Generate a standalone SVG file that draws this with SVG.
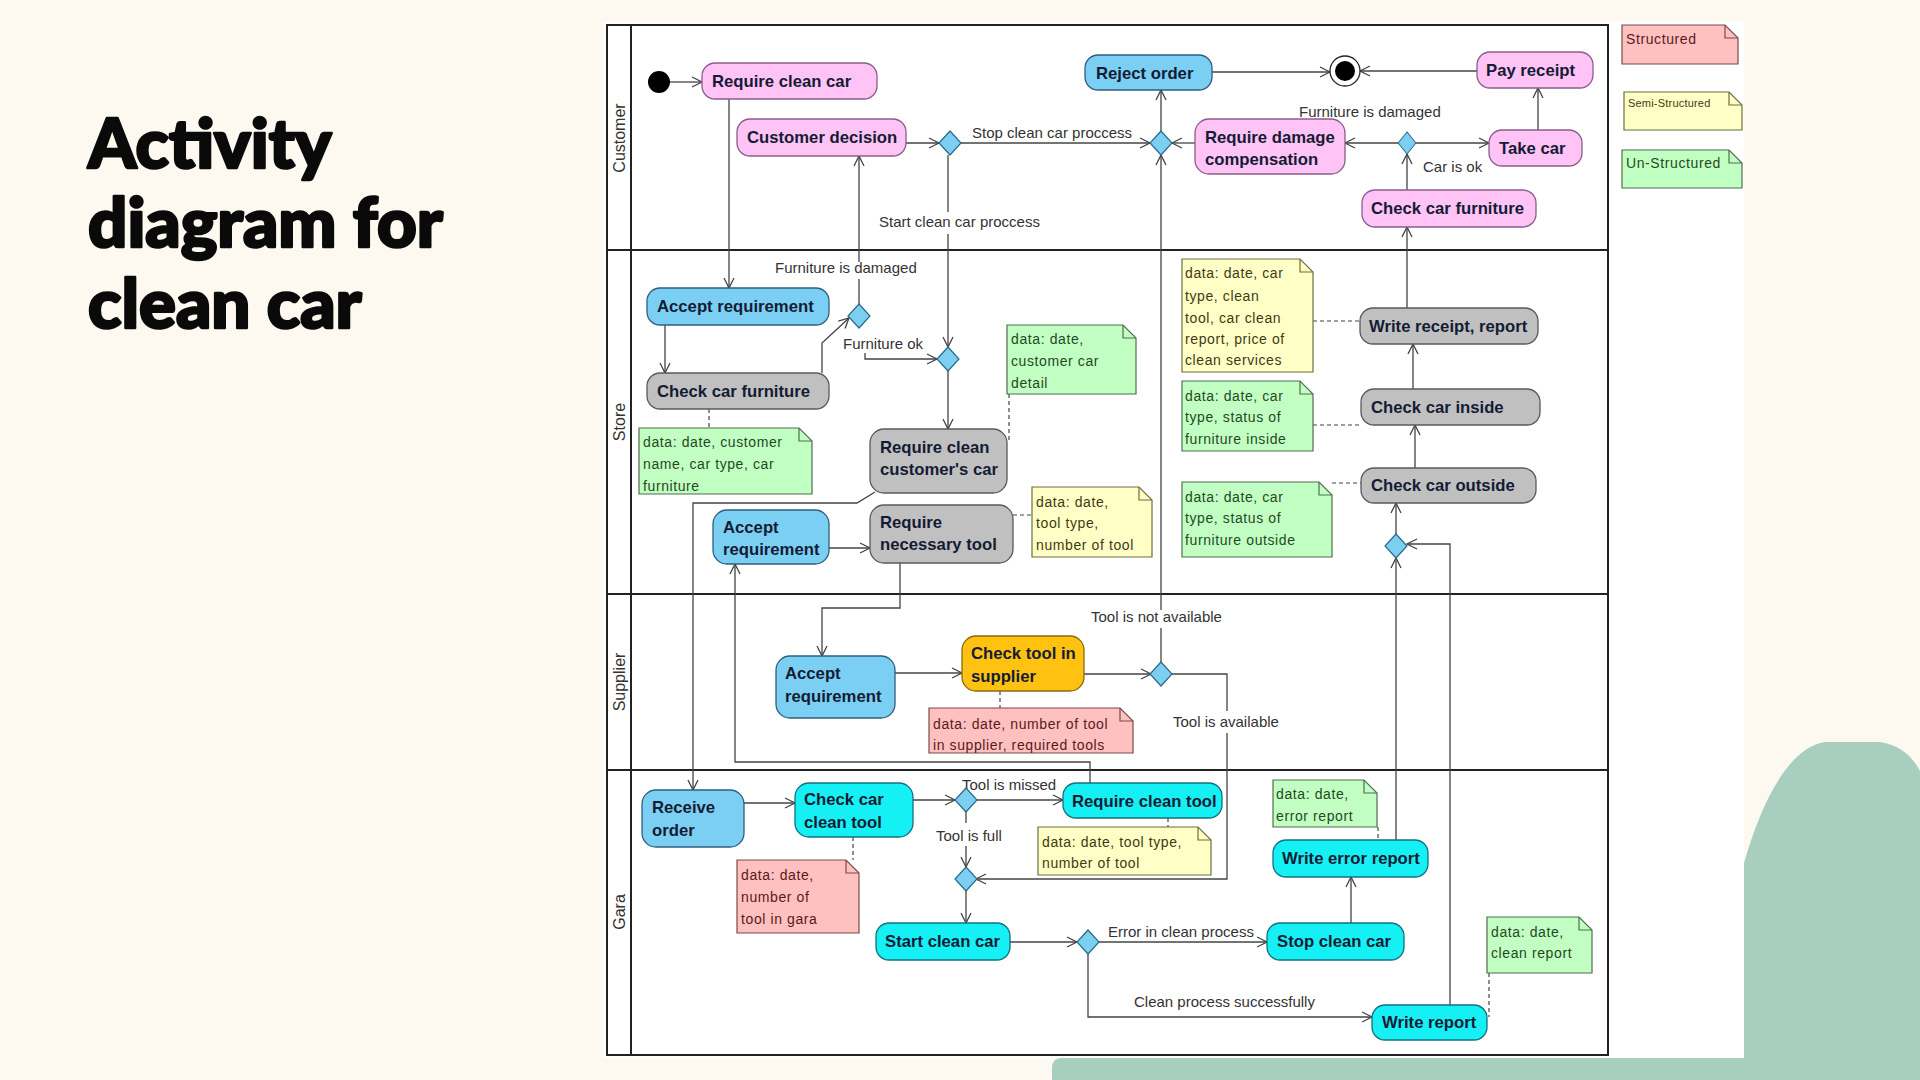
<svg xmlns="http://www.w3.org/2000/svg" width="1920" height="1080" viewBox="0 0 1920 1080">
  <defs>
    <style>
      .act { stroke-width: 1.3; }
      .pink { fill: #ffc3f6; stroke: #8c5c8c; }
      .blue { fill: #7bcff3; stroke: #2f5f7f; }
      .gray { fill: #c0c0c0; stroke: #5a5a5a; }
      .cyan { fill: #14f0f4; stroke: #15707e; }
      .orange { fill: #ffc210; stroke: #8a6a10; }
      .lbl { font-family: "Liberation Sans", Arial, sans-serif; font-weight: bold; font-size: 16.7px; fill: #141c34; }
      .edge { font-family: "Liberation Sans", Arial, sans-serif; font-size: 15px; fill: #333333; }
      .lane { font-family: "Liberation Sans", Arial, sans-serif; font-size: 16px; fill: #333333; }
      .note { font-family: "Liberation Sans", Arial, sans-serif; font-size: 14px; letter-spacing: 0.6px; }
      .ngreen { fill: #c2ffc2; stroke: #4f6f4f; stroke-width: 1.2; }
      .nyellow { fill: #ffffc6; stroke: #6f6f3f; stroke-width: 1.2; }
      .npink { fill: #ffc0c0; stroke: #7a4a4a; stroke-width: 1.2; }
      .tgreen { fill: #1f4a1f; }
      .tyellow { fill: #3f3a14; }
      .tpink { fill: #5a1a1a; }
      .fold { fill: none; stroke-width: 1.2; }
      .flow { fill: none; stroke: #444444; stroke-width: 1.3; }
      .arrow { marker-end: url(#open); }
      .dash { fill: none; stroke: #444444; stroke-width: 1.2; stroke-dasharray: 4 3; }
      .dia { fill: #7ccff0; stroke: #2a6a8a; stroke-width: 1.2; }
      .frame { fill: none; stroke: #222222; stroke-width: 2; }
    </style>
    <marker id="open" markerUnits="userSpaceOnUse" markerWidth="14" markerHeight="14" refX="11" refY="6" orient="auto">
      <path d="M1,1 L11,6 L1,11" fill="none" stroke="#444444" stroke-width="1.3"/>
    </marker>
    <path id="diamond" d="M0,-12 L11,0 L0,12 L-11,0 Z"/>
  </defs>

  <!-- page background -->
  <rect x="0" y="0" width="1920" height="1080" fill="#fdf9f0"/>
  <path d="M1052,1080 L1052,1068 Q1052,1058 1062,1058 L1744,1058 L1744,863 C1762,800 1790,746 1826,742 L1880,742 C1900,745 1912,756 1920,771 L1920,1080 Z" fill="#a8cec0"/>
  <rect x="604" y="22" width="1140" height="1036" fill="#ffffff"/>

  <!-- title -->
  <g id="title" font-family="Lato, 'Open Sans', sans-serif" font-weight="900" font-size="69" fill="#0a0a0a" stroke="#0a0a0a" stroke-width="2.6" stroke-linejoin="round">
    <text x="88" y="168">Activity</text>
    <text x="88" y="247">diagram for</text>
    <text x="88" y="328">clean car</text>
  </g>

  <!-- swimlanes -->
  <g id="lanes">
    <rect class="frame" x="607" y="25" width="1001" height="1030"/>
    <path class="frame" d="M631,25 V1055 M607,250 H1608 M607,594 H1608 M607,770 H1608"/>
    <text class="lane" transform="translate(625,138) rotate(-90)" text-anchor="middle">Customer</text>
    <text class="lane" transform="translate(625,422) rotate(-90)" text-anchor="middle">Store</text>
    <text class="lane" transform="translate(625,682) rotate(-90)" text-anchor="middle">Supplier</text>
    <text class="lane" transform="translate(625,912) rotate(-90)" text-anchor="middle">Gara</text>
  </g>

  <!-- connectors -->
  <g id="connectors">
    <path class="flow arrow" d="M670,82 H702"/>
    <path class="flow arrow" d="M729,99 V288"/>
    <path class="flow arrow" d="M906,143 H939"/>
    <path class="flow arrow" d="M961,143 H1150"/>
    <path class="flow" d="M948,155 V212"/>
    <path class="flow arrow" d="M948,234 V347"/>
    <path class="flow" d="M859,304 V279"/>
    <path class="flow arrow" d="M859,262 V156"/>
    <path class="flow arrow" d="M822,373 V343 L849,318"/>
    <path class="flow arrow" d="M665,325 V373"/>
    <path class="flow arrow" d="M865,353 V359 H937"/>
    <path class="flow arrow" d="M948,371 V429"/>
    <path class="flow arrow" d="M875,492 L857,503 H693 V790"/>
    <path class="flow arrow" d="M829,548 H870"/>
    <path class="flow arrow" d="M900,563 V608 H822 V656"/>
    <path class="flow arrow" d="M1090,783 V762 H735 V564"/>
    <path class="flow arrow" d="M895,673 H962"/>
    <path class="flow arrow" d="M1084,674 H1151"/>
    <path class="flow" d="M1161,662 V628"/>
    <path class="flow arrow" d="M1161,610 V155"/>
    <path class="flow" d="M1172,674 H1227 V711"/>
    <path class="flow arrow" d="M1227,733 V879 H976"/>
    <path class="flow arrow" d="M1161,131 V90"/>
    <path class="flow arrow" d="M1195,143 H1172"/>
    <path class="flow arrow" d="M1212,72 H1330"/>
    <path class="flow arrow" d="M1477,71 H1360"/>
    <path class="flow arrow" d="M1399,143 H1345"/>
    <path class="flow arrow" d="M1415,143 H1489"/>
    <path class="flow arrow" d="M1538,130 V88"/>
    <path class="flow arrow" d="M1407,190 V154"/>
    <path class="flow arrow" d="M1407,308 V227"/>
    <path class="flow arrow" d="M1413,389 V344"/>
    <path class="flow arrow" d="M1415,468 V425"/>
    <path class="flow arrow" d="M1396,534 V503"/>
    <path class="flow arrow" d="M1396,840 V558"/>
    <path class="flow arrow" d="M1450,1005 V544 H1407"/>
    <path class="flow arrow" d="M744,803 H795"/>
    <path class="flow arrow" d="M913,800 H955"/>
    <path class="flow arrow" d="M977,800 H1063"/>
    <path class="flow" d="M966,812 V823"/>
    <path class="flow arrow" d="M966,846 V867"/>
    <path class="flow arrow" d="M966,891 V923"/>
    <path class="flow arrow" d="M1010,942 H1077"/>
    <path class="flow arrow" d="M1099,942 H1267"/>
    <path class="flow arrow" d="M1088,954 V1017 H1372"/>
    <path class="flow arrow" d="M1351,923 V877"/>
    <!-- note anchors -->
    <path class="dash" d="M709,409 V428"/>
    <path class="dash" d="M1009,394 V440"/>
    <path class="dash" d="M1013,515 H1032"/>
    <path class="dash" d="M1313,321 H1360"/>
    <path class="dash" d="M1313,425 H1361"/>
    <path class="dash" d="M1332,483 H1361"/>
    <path class="dash" d="M1000,691 V708"/>
    <path class="dash" d="M853,837 V860"/>
    <path class="dash" d="M1168,818 V827"/>
    <path class="dash" d="M1378,827 V840"/>
    <path class="dash" d="M1489,973 V1017"/>
    <!-- guard labels -->
    <text class="edge" x="972" y="138">Stop clean car proccess</text>
    <text class="edge" x="879" y="227">Start clean car proccess</text>
    <text class="edge" x="775" y="273">Furniture is damaged</text>
    <text class="edge" x="843" y="349">Furniture ok</text>
    <text class="edge" x="1299" y="117">Furniture is damaged</text>
    <text class="edge" x="1423" y="172">Car is ok</text>
    <text class="edge" x="1091" y="622">Tool is not available</text>
    <text class="edge" x="1173" y="727">Tool is available</text>
    <text class="edge" x="962" y="790">Tool is missed</text>
    <text class="edge" x="936" y="841">Tool is full</text>
    <text class="edge" x="1108" y="937">Error in clean process</text>
    <text class="edge" x="1134" y="1007">Clean process successfully</text>
  </g>

  <!-- Customer lane -->
  <g id="initial"><circle cx="659" cy="82" r="11" fill="#000000"/></g>
  <g id="require-clean-car">
    <rect class="act pink" x="702" y="63" width="175" height="36" rx="13"/>
    <text class="lbl" x="712" y="87">Require clean car</text>
  </g>
  <g id="customer-decision">
    <rect class="act pink" x="737" y="119" width="169" height="37" rx="13"/>
    <text class="lbl" x="747" y="143">Customer decision</text>
  </g>
  <g id="reject-order">
    <rect class="act blue" x="1085" y="55" width="127" height="35" rx="13"/>
    <text class="lbl" x="1096" y="79">Reject order</text>
  </g>
  <g id="final">
    <circle cx="1345" cy="71" r="15" fill="#ffffff" stroke="#222222" stroke-width="1.3"/>
    <circle cx="1345" cy="71" r="10" fill="#000000"/>
  </g>
  <g id="pay-receipt">
    <rect class="act pink" x="1477" y="52" width="116" height="36" rx="13"/>
    <text class="lbl" x="1486" y="76">Pay receipt</text>
  </g>
  <g id="require-damage-compensation">
    <rect class="act pink" x="1195" y="119" width="150" height="55" rx="14"/>
    <text class="lbl" x="1205" y="143">Require damage</text>
    <text class="lbl" x="1205" y="165">compensation</text>
  </g>
  <g id="take-car">
    <rect class="act pink" x="1489" y="130" width="93" height="36" rx="13"/>
    <text class="lbl" x="1499" y="154">Take car</text>
  </g>
  <g id="check-car-furniture-customer">
    <rect class="act pink" x="1362" y="190" width="174" height="37" rx="13"/>
    <text class="lbl" x="1371" y="214">Check car furniture</text>
  </g>
  <g id="decision-customer"><use href="#diamond" class="dia" x="950" y="143"/></g>
  <g id="merge-reject"><use href="#diamond" class="dia" x="1161" y="143"/></g>
  <g id="decision-furniture"><use href="#diamond" class="dia" transform="translate(1407,143) scale(0.8,0.92)"/></g>

  <!-- Store lane -->
  <g id="accept-requirement-store">
    <rect class="act blue" x="647" y="288" width="182" height="37" rx="13"/>
    <text class="lbl" x="657" y="312">Accept requirement</text>
  </g>
  <g id="check-car-furniture-store">
    <rect class="act gray" x="647" y="373" width="182" height="36" rx="13"/>
    <text class="lbl" x="657" y="397">Check car furniture</text>
  </g>
  <g id="note-furniture">
    <path class="ngreen" d="M639,428 H799 L812,441 V494 H639 Z"/>
    <path class="fold" stroke="#4f6f4f" d="M799,428 V441 H812"/>
    <text class="note tgreen" x="643" y="447">data: date, customer</text>
    <text class="note tgreen" x="643" y="469">name, car type, car</text>
    <text class="note tgreen" x="643" y="491">furniture</text>
  </g>
  <g id="decision-furniture-store"><use href="#diamond" class="dia" x="859" y="316"/></g>
  <g id="merge-start"><use href="#diamond" class="dia" x="948" y="359"/></g>
  <g id="note-car-detail">
    <path class="ngreen" d="M1007,325 H1123 L1136,338 V394 H1007 Z"/>
    <path class="fold" stroke="#4f6f4f" d="M1123,325 V338 H1136"/>
    <text class="note tgreen" x="1011" y="344">data: date,</text>
    <text class="note tgreen" x="1011" y="366">customer car</text>
    <text class="note tgreen" x="1011" y="388">detail</text>
  </g>
  <g id="require-clean-customers-car">
    <rect class="act gray" x="870" y="429" width="137" height="64" rx="14"/>
    <text class="lbl" x="880" y="453">Require clean</text>
    <text class="lbl" x="880" y="475">customer's car</text>
  </g>
  <g id="accept-requirement-store-2">
    <rect class="act blue" x="713" y="510" width="116" height="54" rx="14"/>
    <text class="lbl" x="723" y="533">Accept</text>
    <text class="lbl" x="723" y="555">requirement</text>
  </g>
  <g id="require-necessary-tool">
    <rect class="act gray" x="870" y="505" width="143" height="58" rx="14"/>
    <text class="lbl" x="880" y="528">Require</text>
    <text class="lbl" x="880" y="550">necessary tool</text>
  </g>
  <g id="note-tool">
    <path class="nyellow" d="M1032,487 H1139 L1152,500 V557 H1032 Z"/>
    <path class="fold" stroke="#6f6f3f" d="M1139,487 V500 H1152"/>
    <text class="note tyellow" x="1036" y="507">data: date,</text>
    <text class="note tyellow" x="1036" y="528">tool type,</text>
    <text class="note tyellow" x="1036" y="550">number of tool</text>
  </g>
  <g id="note-receipt">
    <path class="nyellow" d="M1182,259 H1300 L1313,272 V372 H1182 Z"/>
    <path class="fold" stroke="#6f6f3f" d="M1300,259 V272 H1313"/>
    <text class="note tyellow" x="1185" y="278">data: date, car</text>
    <text class="note tyellow" x="1185" y="301">type, clean</text>
    <text class="note tyellow" x="1185" y="323">tool, car clean</text>
    <text class="note tyellow" x="1185" y="344">report, price of</text>
    <text class="note tyellow" x="1185" y="365">clean services</text>
  </g>
  <g id="write-receipt-report">
    <rect class="act gray" x="1360" y="308" width="178" height="36" rx="13"/>
    <text class="lbl" x="1369" y="332">Write receipt, report</text>
  </g>
  <g id="note-inside">
    <path class="ngreen" d="M1182,381 H1300 L1313,394 V451 H1182 Z"/>
    <path class="fold" stroke="#4f6f4f" d="M1300,381 V394 H1313"/>
    <text class="note tgreen" x="1185" y="401">data: date, car</text>
    <text class="note tgreen" x="1185" y="422">type, status of</text>
    <text class="note tgreen" x="1185" y="444">furniture inside</text>
  </g>
  <g id="check-car-inside">
    <rect class="act gray" x="1361" y="389" width="179" height="36" rx="13"/>
    <text class="lbl" x="1371" y="413">Check car inside</text>
  </g>
  <g id="note-outside">
    <path class="ngreen" d="M1182,482 H1319 L1332,495 V557 H1182 Z"/>
    <path class="fold" stroke="#4f6f4f" d="M1319,482 V495 H1332"/>
    <text class="note tgreen" x="1185" y="502">data: date, car</text>
    <text class="note tgreen" x="1185" y="523">type, status of</text>
    <text class="note tgreen" x="1185" y="545">furniture outside</text>
  </g>
  <g id="check-car-outside">
    <rect class="act gray" x="1361" y="468" width="175" height="35" rx="13"/>
    <text class="lbl" x="1371" y="491">Check car outside</text>
  </g>
  <g id="merge-report"><use href="#diamond" class="dia" x="1396" y="546"/></g>

  <!-- Supplier lane -->
  <g id="accept-requirement-supplier">
    <rect class="act blue" x="776" y="656" width="119" height="62" rx="14"/>
    <text class="lbl" x="785" y="679">Accept</text>
    <text class="lbl" x="785" y="702">requirement</text>
  </g>
  <g id="check-tool-in-supplier">
    <rect class="act orange" x="962" y="636" width="122" height="55" rx="14"/>
    <text class="lbl" x="971" y="659">Check tool in</text>
    <text class="lbl" x="971" y="682">supplier</text>
  </g>
  <g id="note-supplier">
    <path class="npink" d="M929,708 H1120 L1133,721 V753 H929 Z"/>
    <path class="fold" stroke="#7a4a4a" d="M1120,708 V721 H1133"/>
    <text class="note tpink" x="933" y="729">data: date, number of tool</text>
    <text class="note tpink" x="933" y="750">in supplier, required tools</text>
  </g>
  <g id="decision-tool-supplier"><use href="#diamond" class="dia" x="1161" y="674"/></g>

  <!-- Gara lane -->
  <g id="receive-order">
    <rect class="act blue" x="642" y="790" width="102" height="57" rx="14"/>
    <text class="lbl" x="652" y="813">Receive</text>
    <text class="lbl" x="652" y="836">order</text>
  </g>
  <g id="check-car-clean-tool">
    <rect class="act cyan" x="795" y="783" width="118" height="54" rx="14"/>
    <text class="lbl" x="804" y="805">Check car</text>
    <text class="lbl" x="804" y="828">clean tool</text>
  </g>
  <g id="note-gara">
    <path class="npink" d="M737,860 H846 L859,873 V933 H737 Z"/>
    <path class="fold" stroke="#7a4a4a" d="M846,860 V873 H859"/>
    <text class="note tpink" x="741" y="880">data: date,</text>
    <text class="note tpink" x="741" y="902">number of</text>
    <text class="note tpink" x="741" y="924">tool in gara</text>
  </g>
  <g id="decision-tool-gara"><use href="#diamond" class="dia" x="966" y="800"/></g>
  <g id="require-clean-tool">
    <rect class="act cyan" x="1063" y="783" width="159" height="35" rx="13"/>
    <text class="lbl" x="1072" y="807">Require clean tool</text>
  </g>
  <g id="note-clean-tool">
    <path class="nyellow" d="M1038,827 H1198 L1211,840 V875 H1038 Z"/>
    <path class="fold" stroke="#6f6f3f" d="M1198,827 V840 H1211"/>
    <text class="note tyellow" x="1042" y="847">data: date, tool type,</text>
    <text class="note tyellow" x="1042" y="868">number of tool</text>
  </g>
  <g id="merge-tool"><use href="#diamond" class="dia" x="966" y="879"/></g>
  <g id="start-clean-car">
    <rect class="act cyan" x="876" y="923" width="134" height="37" rx="13"/>
    <text class="lbl" x="885" y="947">Start clean car</text>
  </g>
  <g id="decision-clean"><use href="#diamond" class="dia" x="1088" y="942"/></g>
  <g id="stop-clean-car">
    <rect class="act cyan" x="1267" y="923" width="137" height="37" rx="13"/>
    <text class="lbl" x="1277" y="947">Stop clean car</text>
  </g>
  <g id="note-error">
    <path class="ngreen" d="M1273,780 H1364 L1377,793 V827 H1273 Z"/>
    <path class="fold" stroke="#4f6f4f" d="M1364,780 V793 H1377"/>
    <text class="note tgreen" x="1276" y="799">data: date,</text>
    <text class="note tgreen" x="1276" y="821">error report</text>
  </g>
  <g id="write-error-report">
    <rect class="act cyan" x="1273" y="840" width="155" height="37" rx="13"/>
    <text class="lbl" x="1282" y="864">Write error report</text>
  </g>
  <g id="note-clean-report">
    <path class="ngreen" d="M1487,917 H1579 L1592,930 V973 H1487 Z"/>
    <path class="fold" stroke="#4f6f4f" d="M1579,917 V930 H1592"/>
    <text class="note tgreen" x="1491" y="937">data: date,</text>
    <text class="note tgreen" x="1491" y="958">clean report</text>
  </g>
  <g id="write-report">
    <rect class="act cyan" x="1372" y="1005" width="115" height="35" rx="13"/>
    <text class="lbl" x="1382" y="1028">Write report</text>
  </g>

  <!-- legend -->
  <g id="legend">
    <path class="npink" d="M1622,25 H1725 L1738,38 V64 H1622 Z"/>
    <path class="fold" stroke="#7a4a4a" d="M1725,25 V38 H1738"/>
    <text class="note tpink" x="1626" y="44">Structured</text>
    <path class="nyellow" d="M1624,92 H1729 L1742,105 V130 H1624 Z"/>
    <path class="fold" stroke="#6f6f3f" d="M1729,92 V105 H1742"/>
    <text class="note tyellow" x="1628" y="107" style="font-size:11px;letter-spacing:0.2px">Semi-Structured</text>
    <path class="ngreen" d="M1622,150 H1729 L1742,163 V188 H1622 Z"/>
    <path class="fold" stroke="#4f6f4f" d="M1729,150 V163 H1742"/>
    <text class="note tgreen" x="1626" y="168">Un-Structured</text>
  </g>
</svg>
